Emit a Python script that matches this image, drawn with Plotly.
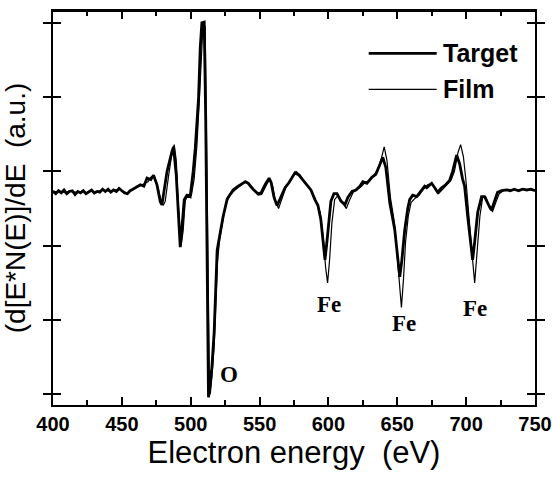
import plotly.graph_objects as go

# ---- data ----
energy_target = [400, 402, 404, 406, 408, 410, 412, 414, 416, 418, 420, 422, 424, 426, 428, 430,
                 432, 434, 436, 438, 440, 442, 444, 446, 448, 450, 452, 454, 456, 458, 460, 463.4,
                 466, 468.3, 471, 473.0, 475.5, 477.9, 479.1, 482.8, 486.4, 487.5, 489.5, 490.9,
                 492.4, 493.8, 495.3, 497.2, 499.6, 501.8, 503.3, 505.7, 506.9, 508.1, 509.8, 510.9,
                 512.0, 512.9, 514.1, 515.4, 517.0, 517.8, 518.5, 519.2, 521.4, 523.5, 526.5, 530.8,
                 533.7, 536.6, 539.5, 541.7, 545.3, 548.9, 551.1, 554.0, 556.9, 558.4, 560.5, 562.7,
                 564.9, 568.5, 571.4, 575.7, 578.6, 581.5, 584.4, 587.3, 590.2, 592.4, 594.5, 596.0,
                 597.5, 598.9, 600.4, 601.8, 604.0, 606.2, 609.1, 612.0, 614.1, 617.1, 620.0, 622.8,
                 625.0, 627.9, 631.5, 634.4, 637.3, 639.5, 641.7, 644.6, 648.2, 650.4, 651.8, 653.3,
                 655.4, 657.6, 659.0, 661.2, 664.1, 667.0, 669.9, 671.4, 675.0, 677.2, 679.3, 682.2,
                 685.1, 688.0, 690.2, 693.1, 695.3, 697.4, 698.9, 701.1, 703.3, 704.7, 706.2, 708.4,
                 711.2, 713.4, 716.3, 718.5, 720.6, 722.8, 725.7, 729.3, 732, 735, 738, 741, 744,
                 747, 750]
signal_target = [7.3, 7.0, 7.4, 7.1, 7.5, 7.0, 7.3, 7.4, 6.9, 7.3, 7.1, 7.4, 7.0, 7.2, 7.5, 7.1,
                 7.3, 7.2, 7.6, 7.3, 7.6, 7.2, 7.5, 7.3, 7.7, 7.4, 7.1, 7.0, 7.4, 7.6, 7.8, 8.2,
                 8.0, 9.1, 8.9, 9.5, 8.2, 5.9, 5.5, 10.0, 12.7, 13.3, 9.5, 4.1,
                 -0.2, 2.8, 6.2, 6.8, 6.6, 10.0, 13.1, 19.9, 26.6, 30.0, 30.1, 16.9,
                 -7.3, -20.4, -18.7, -16.3, -11.7, -7.3, -2.9, -0.6, 1.7, 3.9, 6.3, 7.5,
                 7.9, 8.3, 8.6, 8.4, 7.6, 7.0, 7.1, 8.2, 9.1, 8.5, 6.5, 5.4,
                 6.3, 7.8, 8.5, 9.8, 9.5, 8.8, 8.2, 7.5, 6.2, 5.4, 3.5, 0.5,
                 -1.9, 0.5, 3.5, 6.0, 7.0, 7.0, 6.0, 5.5, 6.5, 7.3, 7.5, 8.0,
                 8.6, 8.4, 9.2, 9.6, 10.9, 11.9, 10.5, 5.7, 2.1, -1.5, -4.2, -2.0,
                 2.1, 5.0, 6.2, 6.8, 6.6, 7.3, 8.0, 7.8, 8.4, 7.8, 7.2, 7.8,
                 8.2, 8.8, 10.0, 12.2, 11.0, 9.0, 8.0, 4.0, 0.0, -1.9, 0.5, 4.5,
                 6.6, 6.6, 5.5, 4.8, 6.0, 7.2, 7.4, 7.5, 7.4, 7.6, 7.4, 7.6, 7.5,
                 7.6, 7.4]

energy_film = [400, 403, 406, 409, 412, 415, 418, 421, 424, 427, 430, 433, 436, 439, 442, 445,
               448, 451, 454, 457, 460, 463, 466, 469, 471, 473.5, 476, 478.5, 480, 481.5, 484,
               486, 488, 489.5, 491, 493, 494.5, 496, 498, 500.5, 502.5, 504.5, 506.5, 508, 509,
               510.5, 511.5, 512.5, 513.5, 514.2, 515.5, 517, 518.5, 519.5, 521, 523, 525, 527.5,
               531, 534, 537, 540, 542.5, 546, 549, 551.5, 554.5, 557.5, 559.5, 561.5, 563.8, 566,
               569, 572, 576.5, 579.5, 582, 585, 588, 591, 594, 596.5, 598, 599.4, 600.8, 602.5,
               604.5, 607, 610, 613, 615.5, 618, 621, 624, 627, 630, 633, 636, 638.5, 640.5, 642.5,
               645, 648, 650, 651.8, 653.0, 654.5, 656, 658, 660, 663, 666, 669, 672, 675, 678,
               680, 683, 686, 689, 691.5, 694, 696, 698, 700, 702, 704, 706.2, 708, 710, 712,
               714.5, 717, 719.2, 721.5, 724, 727, 730, 735, 740, 745, 750]
signal_film = [7.4, 7.2, 7.3, 7.1, 7.4, 7.2, 7.2, 7.3, 7.1, 7.4, 7.2, 7.3, 7.5, 7.4, 7.3, 7.5,
               7.6, 7.3, 7.1, 7.5, 7.8, 8.1, 8.3, 8.6, 9.2, 9.4, 8.0, 6.0, 5.4, 6.0, 9.5,
               12.0, 13.6, 11.5, 5.5, 0.0, 2.0, 6.0, 6.9, 6.8, 9.0, 13.5, 20.5, 27.5, 30.1,
               29.5, 12.0, -4.0, -17.0, -20.0, -17.5, -13.5, -7.0, -2.0, 0.8, 3.2, 5.2, 6.5,
               7.3, 7.8, 8.2, 8.7, 8.4, 7.4, 6.8, 6.9, 8.0, 9.0, 8.0, 6.0, 5.0, 6.3,
               7.8, 8.6, 10.0, 9.5, 8.7, 8.0, 7.3, 6.0, 4.5, 0.5, -3.0, -5.0, -2.0, 3.0,
               6.2, 6.8, 5.8, 5.0, 6.2, 7.2, 7.6, 8.0, 8.6, 8.7, 9.5, 10.3, 11.8, 13.3, 11.5,
               6.5, 3.0, -1.5, -5.5, -8.3, -4.5, 0.5, 4.0, 5.8, 6.4, 6.8, 7.6, 8.2, 8.4, 7.4,
               7.0, 7.6, 8.2, 8.8, 10.0, 12.5, 13.6, 12.0, 8.5, 4.5, -0.5, -5.0, -1.0, 4.0, 6.5,
               6.5, 5.0, 4.6, 5.8, 7.0, 7.4, 7.6, 7.5, 7.6, 7.5, 7.5]

series_names = ["Target", "Film"]
x_ticks = [400, 450, 500, 550, 600, 650, 700, 750]
x_minor_ticks = [425, 475, 525, 575, 625, 675, 725]
y_ticks = [-20, -10, 0, 10, 20, 30]
peak_labels = ["O", "Fe", "Fe", "Fe"]
peak_label_energy = [527.5, 600.7, 655.1, 706.2]
peak_label_signal = [-17.4, -7.85, -10.5, -8.5]

SANS = "Liberation Sans, Arial, sans-serif"
SERIF = "Liberation Serif, Times New Roman, serif"

fig = go.Figure()
fig.add_trace(go.Scatter(x=energy_target, y=signal_target, mode="lines", name=series_names[0],
                         line=dict(color="black", width=2.8), showlegend=False))
fig.add_trace(go.Scatter(x=energy_film, y=signal_film, mode="lines", name=series_names[1],
                         xaxis="x2", line=dict(color="black", width=1.2), showlegend=False))

for txt, ex, sy in zip(peak_labels, peak_label_energy, peak_label_signal):
    fig.add_annotation(x=ex, y=sy, text="<b>" + txt + "</b>", showarrow=False,
                       font=dict(family=SERIF, size=23, color="black"))

# legend drawn as sample lines + labels
legend_rows = [(0.8926, 2.8), (0.801, 1.2)]
for name, (yy, w) in zip(series_names, legend_rows):
    fig.add_shape(type="line", xref="paper", yref="paper", x0=0.655, x1=0.796, y0=yy, y1=yy,
                  line=dict(color="black", width=w))
    fig.add_annotation(xref="paper", yref="paper", x=0.806, y=yy, text="<b>" + name + "</b>",
                       showarrow=False, xanchor="left", yanchor="middle",
                       font=dict(family=SANS, size=25, color="black"))

# top edge of the frame
fig.add_shape(type="line", xref="paper", yref="paper", x0=0, x1=1, y0=1, y1=1,
              line=dict(color="black", width=2), layer="above")

axis_common = dict(showline=True, linecolor="black", linewidth=2, mirror="allticks",
                   ticks="inside", tickcolor="black", tickwidth=1.5, showgrid=False,
                   zeroline=False)

fig.update_layout(
    width=552, height=479,
    margin=dict(l=52.5, r=16.5, t=11, b=74, autoexpand=False),
    plot_bgcolor="white", paper_bgcolor="white", showlegend=False,
    xaxis=dict(range=[400, 750], tickvals=x_ticks,
               ticktext=["<b>%d</b>" % v for v in x_ticks], ticklen=8,
               tickfont=dict(family=SANS, size=20, color="black"),
               title=dict(text="Electron energy  (eV)", standoff=6,
                          font=dict(family=SANS, size=31, color="black")),
               automargin=False, **axis_common),
    xaxis2=dict(range=[400, 750], overlaying="x", anchor="y", side="bottom",
                tickvals=x_minor_ticks, ticklen=5, showticklabels=False,
                showline=False, mirror="allticks", ticks="inside", tickcolor="black",
                tickwidth=1.5, showgrid=False, zeroline=False, automargin=False),
    yaxis=dict(range=[-21.44, 31.59], tickvals=y_ticks, ticklen=8, showticklabels=False,
               title=dict(text="(d[E*N(E)]/dE  (a.u.)", standoff=26,
                          font=dict(family=SANS, size=28, color="black")),
               automargin=False, **axis_common),
)

fig.write_html("out.html", config={"displayModeBar": False},
               post_script="document.body.style.margin='0';document.body.style.overflow='hidden';")
